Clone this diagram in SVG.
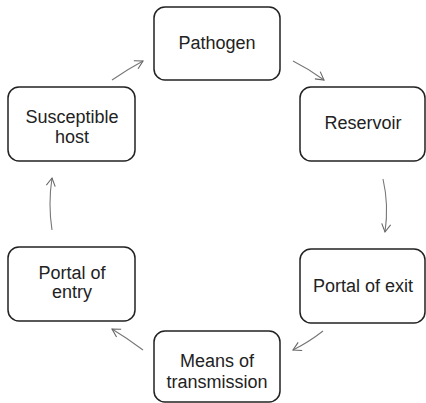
<svg xmlns="http://www.w3.org/2000/svg" width="426" height="403" viewBox="0 0 426 403">
<style>
.box{fill:#fff;stroke:#222;stroke-width:1.5}
.lbl{font-family:"Liberation Sans",Arial,sans-serif;font-size:18px;fill:#222;text-anchor:middle}
.con{fill:none;stroke:#777;stroke-width:1.1}
</style>
<defs>
<marker id="ah" markerUnits="userSpaceOnUse" markerWidth="12" markerHeight="12" refX="9" refY="5" orient="auto">
<path d="M1,0.5 L9,5 L1,9.5" fill="none" stroke="#666" stroke-width="1.1"/>
</marker>
</defs>
<g id="connectors">
<path class="con" d="M112,80 Q128,69 143,61" marker-end="url(#ah)"/>
<path class="con" d="M293,61 Q309,69 324,80" marker-end="url(#ah)"/>
<path class="con" d="M383,179 Q389,205 385,232" marker-end="url(#ah)"/>
<path class="con" d="M323,331 Q309,342 293,350" marker-end="url(#ah)"/>
<path class="con" d="M143,350 Q127,338 112,329" marker-end="url(#ah)"/>
<path class="con" d="M52,230 Q48,204 52,178" marker-end="url(#ah)"/>
</g>
<g id="pathogen">
<rect class="box" x="154" y="7" width="126" height="73" rx="11"/>
<text class="lbl" x="217" y="49">Pathogen</text>
</g>
<g id="reservoir">
<rect class="box" x="300" y="87" width="125" height="74" rx="11"/>
<text class="lbl" x="363" y="129">Reservoir</text>
</g>
<g id="portal-of-exit">
<rect class="box" x="300" y="249" width="125" height="74" rx="11"/>
<text class="lbl" x="363" y="292">Portal of exit</text>
</g>
<g id="means-of-transmission">
<rect class="box" x="154" y="331" width="126" height="71" rx="11"/>
<text class="lbl" x="217" y="367">Means of</text>
<text class="lbl" x="217" y="388">transmission</text>
</g>
<g id="portal-of-entry">
<rect class="box" x="8" y="247" width="127" height="74" rx="11"/>
<text class="lbl" x="72" y="279">Portal of</text>
<text class="lbl" x="72" y="298">entry</text>
</g>
<g id="susceptible-host">
<rect class="box" x="8" y="87" width="127" height="74" rx="11"/>
<text class="lbl" x="72" y="123">Susceptible</text>
<text class="lbl" x="72" y="143">host</text>
</g>
</svg>
